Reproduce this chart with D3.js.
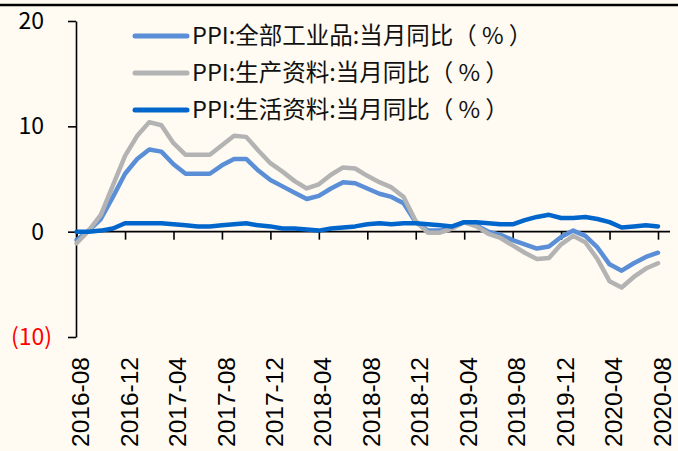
<!DOCTYPE html>
<html>
<head>
<meta charset="utf-8">
<script src="https://cdn.jsdelivr.net/npm/d3@7"></script>
<style>
  body { margin: 0; background: #fffbf2; }
  svg { display: block; }
</style>
</head>
<body>
<div id="chart"></div>
<script>
// Monthly data, 2016-08 .. 2020-08
const months = [
  "2016-08","2016-09","2016-10","2016-11","2016-12",
  "2017-01","2017-02","2017-03","2017-04","2017-05","2017-06","2017-07","2017-08","2017-09","2017-10","2017-11","2017-12",
  "2018-01","2018-02","2018-03","2018-04","2018-05","2018-06","2018-07","2018-08","2018-09","2018-10","2018-11","2018-12",
  "2019-01","2019-02","2019-03","2019-04","2019-05","2019-06","2019-07","2019-08","2019-09","2019-10","2019-11","2019-12",
  "2020-01","2020-02","2020-03","2020-04","2020-05","2020-06","2020-07","2020-08"
];
const ppiAll = [
  -0.8, 0.1, 1.2, 3.3, 5.5,
  6.9, 7.8, 7.6, 6.4, 5.5, 5.5, 5.5, 6.3, 6.9, 6.9, 5.8, 4.9,
  4.3, 3.7, 3.1, 3.4, 4.1, 4.7, 4.6, 4.1, 3.6, 3.3, 2.7, 0.9,
  0.1, 0.1, 0.4, 0.9, 0.6, 0.0, -0.3, -0.8, -1.2, -1.6, -1.4, -0.5,
  0.1, -0.4, -1.5, -3.1, -3.7, -3.0, -2.4, -2.0
];
const ppiProducer = [
  -1.1, 0.1, 1.6, 4.4, 7.2,
  9.1, 10.4, 10.1, 8.4, 7.3, 7.3, 7.3, 8.2, 9.1, 9.0, 7.7, 6.5,
  5.7, 4.8, 4.1, 4.5, 5.4, 6.1, 6.0, 5.3, 4.7, 4.2, 3.3, 1.0,
  -0.1, -0.1, 0.3, 0.9, 0.5, -0.2, -0.6, -1.3, -2.0, -2.6, -2.5, -1.2,
  -0.4, -1.0, -2.6, -4.7, -5.3, -4.3, -3.5, -3.0
];
const ppiConsumer = [
  0.0, 0.0, 0.1, 0.3, 0.8,
  0.8, 0.8, 0.8, 0.7, 0.6, 0.5, 0.5, 0.6, 0.7, 0.8, 0.6, 0.5,
  0.3, 0.3, 0.2, 0.1, 0.3, 0.4, 0.5, 0.7, 0.8, 0.7, 0.8, 0.8,
  0.7, 0.6, 0.5, 0.9, 0.9, 0.8, 0.7, 0.7, 1.1, 1.4, 1.6, 1.3,
  1.3, 1.4, 1.2, 0.9, 0.4, 0.5, 0.6, 0.5
];
const seriesNames = [
  "PPI:全部工业品:当月同比（ % ）",
  "PPI:生产资料:当月同比（ % ）",
  "PPI:生活资料:当月同比（ % ）"
];
const seriesColors = ["#5a8fd8", "#b3b3b3", "#0066cc"];
const yTicks = [20, 10, 0, -10];

const width = 678, height = 451;

const svg = d3.select("#chart")
  .append("svg")
  .attr("width", width)
  .attr("height", height);

svg.append("rect")
  .attr("width", width)
  .attr("height", height)
  .attr("fill", "#fffbf2");

// top rule
svg.append("line")
  .attr("x1", 0).attr("x2", width)
  .attr("y1", 5).attr("y2", 5)
  .attr("stroke", "#000")
  .attr("stroke-width", 2.5);

// Scales
const x = d3.scalePoint()
  .domain(months)
  .range([76.6, 658]);

const y = d3.scaleLinear()
  .domain([-10, 20])
  .range([337, 21]);

// Y axis
const yAxis = svg.append("g")
  .attr("transform", "translate(76,0)")
  .call(d3.axisLeft(y)
    .tickValues(yTicks)
    .tickSize(8)
    .tickSizeOuter(0)
    .tickPadding(0)
    .tickFormat(d => d < 0 ? `(${-d})` : d));

yAxis.select(".domain").attr("stroke", "#000").attr("stroke-width", 1.6);
yAxis.selectAll(".tick line").attr("stroke", "#000").attr("stroke-width", 1.6);
yAxis.selectAll(".tick text")
  .attr("x", d => d < 0 ? -24 : -32)
  .attr("fill", d => d < 0 ? "#ff0000" : "#000")
  .style("font-family", "'Noto Sans CJK SC', 'Noto Sans', sans-serif")
  .style("font-size", "23px");

// X axis (crosses at 0)
const xTickVals = months.filter((d, i) => i % 4 === 0);
const xAxis = svg.append("g")
  .attr("transform", `translate(0,${y(0)})`)
  .call(d3.axisBottom(x)
    .tickValues(xTickVals)
    .tickSize(8)
    .tickSizeOuter(0));

xAxis.select(".domain")
  .attr("d", `M${x.range()[0] - 0.6},0H${x.range()[1] + 12}`)
  .attr("stroke", "#000")
  .attr("stroke-width", 1.6);
xAxis.selectAll(".tick line").attr("stroke", "#000").attr("stroke-width", 1.6);
xAxis.selectAll(".tick text").remove();

// X labels at bottom of plot, rotated
svg.append("g")
  .selectAll("text")
  .data(xTickVals)
  .join("text")
  .attr("transform", d => `translate(${x(d) + 4},${y(-10) + 20}) rotate(-90)`)
  .attr("text-anchor", "end")
  .attr("dy", "0.35em")
  .style("font-family", "'Liberation Sans', Arial, sans-serif")
  .style("font-size", "24.5px")
  .attr("fill", "#000")
  .text(d => d);

// Lines
const allSeries = [ppiAll, ppiProducer, ppiConsumer];
const line = d3.line()
  .x((d, i) => x(months[i]))
  .y(d => y(d));

svg.append("g")
  .selectAll("path")
  .data(allSeries)
  .join("path")
  .attr("d", d => line(d))
  .attr("fill", "none")
  .attr("stroke", (d, i) => seriesColors[i])
  .attr("stroke-width", 4.5)
  .attr("stroke-linejoin", "round")
  .attr("stroke-linecap", "round");

// Legend
const legend = svg.append("g")
  .selectAll("g")
  .data(seriesNames)
  .join("g")
  .attr("transform", (d, i) => `translate(133,${36 + i * 37})`);

legend.append("line")
  .attr("x1", 2).attr("x2", 54)
  .attr("stroke", (d, i) => seriesColors[i])
  .attr("stroke-width", 5)
  .attr("stroke-linecap", "round");

legend.append("text")
  .attr("x", 59)
  .attr("dy", "0.35em")
  .style("font-family", "'Noto Sans CJK SC', sans-serif")
  .style("font-size", "23.5px")
  .attr("fill", "#111")
  .text(d => d);
</script>
</body>
</html>
